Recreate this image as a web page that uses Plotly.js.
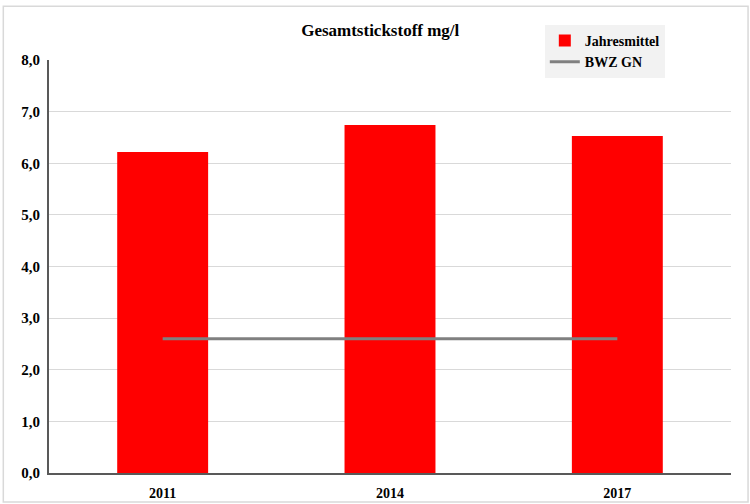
<!DOCTYPE html>
<html><head><meta charset="utf-8">
<script src="https://cdn.plot.ly/plotly-3.0.1.min.js"></script>
<style>html,body{margin:0;padding:0;background:#fff}#c{width:750px;height:504px}</style>
</head><body><div id="c"></div>
<script>
const years = ['2011', '2014', '2017'];
const jahresmittel = [6.22, 6.74, 6.53];
const bwzGN = [2.6, 2.6, 2.6];
const yTicks = [0, 1, 2, 3, 4, 5, 6, 7, 8];

const fontFam = '"Liberation Serif", "Times New Roman", serif';
const traces = [
  {type: 'bar', x: years, y: jahresmittel, name: 'Jahresmittel',
   marker: {color: '#ff0000'}, hoverinfo: 'y'},
  {type: 'scatter', mode: 'lines', x: years, y: bwzGN, name: 'BWZ GN',
   line: {color: '#808080', width: 3}}
];
const layout = {
  width: 750, height: 504,
  margin: {l: 49, r: 19, t: 60, b: 31},
  paper_bgcolor: '#fff', plot_bgcolor: '#fff',
  separators: ',.',
  font: {family: fontFam, size: 14, color: '#000', weight: 'bold'},
  title: {text: '<b>Gesamtstickstoff mg/l</b>', x: 0.507, xanchor: 'center',
          y: 0.94, yanchor: 'middle', font: {family: fontFam, size: 17, color: '#000'}},
  bargap: 0.6,
  showlegend: true,
  legend: {x: 0.727, y: 1.085, xanchor: 'left', yanchor: 'top',
           bgcolor: '#f2f2f2', font: {family: fontFam, size: 14, color: '#000', weight: 'bold'},
           tracegroupgap: 0, itemwidth: 30},
  xaxis: {type: 'category', showgrid: false, showline: true, linecolor: '#595959', linewidth: 2,
          ticks: '', tickfont: {family: fontFam, size: 14, weight: 'bold'}, ticklabelstandoff: 6},
  yaxis: {range: [0, 8], tickvals: yTicks, tickformat: '.1f', showgrid: true,
          gridcolor: '#d9d9d9', gridwidth: 1, showline: true, linecolor: '#595959', linewidth: 2,
          zeroline: false, ticks: '', ticklabelstandoff: 4,
          tickfont: {family: fontFam, size: 15, weight: 'bold'}},
  shapes: [{type: 'rect', xref: 'paper', yref: 'paper',
            x0: -0.067, x1: 1.025, y0: -0.07, y1: 1.13,
            line: {color: '#d9d9d9', width: 1.5}, fillcolor: 'rgba(0,0,0,0)', layer: 'below'}]
};
Plotly.newPlot('c', traces, layout, {displayModeBar: false, staticPlot: true});
</script></body></html>
